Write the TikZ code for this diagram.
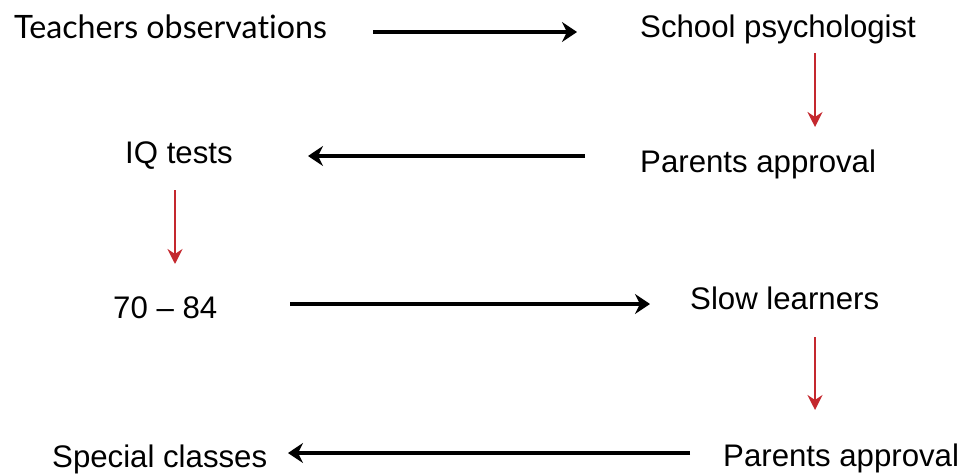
\documentclass[tikz,border=0pt]{standalone}
\usepackage{fontspec}
\setmainfont{Liberation Sans}
\newfontfamily\humanist[Ligatures={NoCommon}]{Lato}
\usetikzlibrary{arrows.meta}
\definecolor{flowred}{RGB}{196,40,46}
\tikzset{
  label/.style={anchor=base west, inner sep=0pt, font=\fontsize{31.2}{36}\selectfont},
  flow/.style={line width=4.4pt, black, -{Stealth[length=15pt,width=20pt,inset=5pt]}},
  down/.style={line width=2.5pt, flowred, -{Stealth[length=15pt,width=15pt,inset=5pt]}}
}
\begin{document}
\begin{tikzpicture}[x=1pt,y=-1pt]
\useasboundingbox (0,0) rectangle (965,474);
% text items
\node[label, font=\humanist\fontsize{32.2}{38}\selectfont] (teach) at (14,38) {Teachers observations};
\node[label] (psych) at (640,37) {School psychologist};
\node[label] (appr1) at (640,172) {Parents approval};
\node[label] (iq)    at (125,163) {IQ tests};
\node[label] (range) at (113,318) {70 – 84};
\node[label] (slow)  at (690,309) {Slow learners};
\node[label] (appr2) at (723,466) {Parents approval};
\node[label] (spec)  at (52,467) {Special classes};
% connector end points
\coordinate (a1s) at (373,32);  \coordinate (a1e) at (577,32);
\coordinate (r1s) at (815,53);  \coordinate (r1e) at (815,127);
\coordinate (a2s) at (585,156); \coordinate (a2e) at (308,156);
\coordinate (r2s) at (175,190); \coordinate (r2e) at (175,264);
\coordinate (a3s) at (290,304); \coordinate (a3e) at (650,304);
\coordinate (r3s) at (815,337); \coordinate (r3e) at (815,410);
\coordinate (a4s) at (690,453); \coordinate (a4e) at (288,453);
% connectors
\draw[flow] (a1s) -- (a1e);
\draw[down] (r1s) -- (r1e);
\draw[flow] (a2s) -- (a2e);
\draw[down] (r2s) -- (r2e);
\draw[flow] (a3s) -- (a3e);
\draw[down] (r3s) -- (r3e);
\draw[flow] (a4s) -- (a4e);
\end{tikzpicture}
\end{document}
